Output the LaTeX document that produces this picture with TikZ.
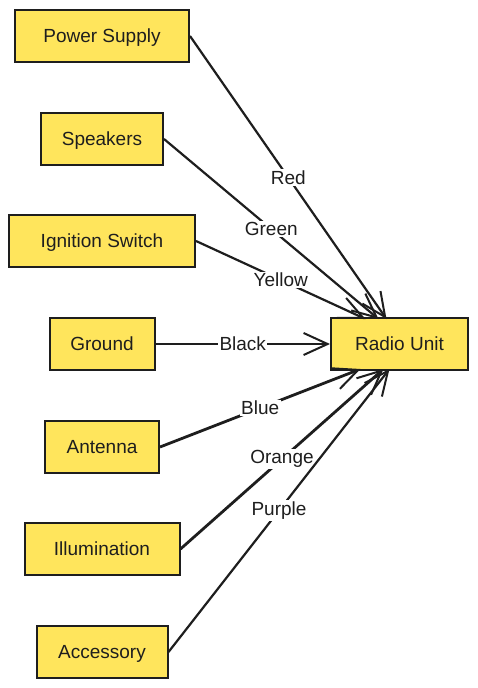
\documentclass[tikz,border=0pt]{standalone}
\usepackage{fontspec}
\setmainfont{Liberation Sans}
\usetikzlibrary{arrows.meta}
\definecolor{ink}{HTML}{1E1E1E}
\definecolor{boxfill}{HTML}{FFE55C}
\tikzset{
  box/.style={draw=ink, fill=boxfill, line width=2pt, minimum height=52pt, inner sep=0pt, font=\fontsize{19}{21}\selectfont, text=ink, text height=16pt, text depth=4pt},
  wire/.style={draw=ink, line width=2.2pt, -{Straight Barb[length=24pt,width=22pt,line width=2pt]}},
  lbl/.style={fill=white, inner sep=1.5pt, font=\fontsize{19}{21}\selectfont, text=ink}
}
\begin{document}
\begin{tikzpicture}[x=1pt,y=-1pt]
\useasboundingbox (0,0) rectangle (478,688);
\node[box, minimum width=174pt] (ps) at (102,36) {Power Supply};
\node[box, minimum width=122pt] (sp) at (102,139) {Speakers};
\node[box, minimum width=186pt] (ig) at (102,241) {Ignition Switch};
\node[box, minimum width=105pt] (gr) at (102,344) {Ground};
\node[box, minimum width=114pt] (an) at (102,447) {Antenna};
\node[box, minimum width=155pt] (il) at (102,549) {Illumination};
\node[box, minimum width=131pt] (ac) at (102,652) {Accessory};
\node[box, minimum width=137pt] (ru) at (399.5,344) {Radio Unit};

\draw[wire] (ps.east) -- ([xshift=-13pt,yshift=-2pt]ru.north) node[lbl,pos=0.5] {Red};
\draw[wire] (sp.east) -- ([xshift=-21pt,yshift=-2pt]ru.north) node[lbl,pos=0.5] {Green};
\draw[wire] (ig.east) -- ([xshift=-34pt,yshift=-2pt]ru.north) node[lbl,pos=0.5] {Yellow};
\draw[wire] (gr.east) -- (ru.west) node[lbl,pos=0.5] {Black};
\draw[wire, line width=2.8pt] (an.east) -- ([xshift=-39pt,yshift=2pt]ru.south) node[lbl,pos=0.5] {Blue};
\draw[wire, line width=2.8pt] (il.east) -- ([xshift=-16pt,yshift=2pt]ru.south) node[lbl,pos=0.5] {Orange};
\draw[wire] (ac.east) -- ([xshift=-10pt,yshift=2pt]ru.south) node[lbl,pos=0.5] {Purple};
\end{tikzpicture}
\end{document}
